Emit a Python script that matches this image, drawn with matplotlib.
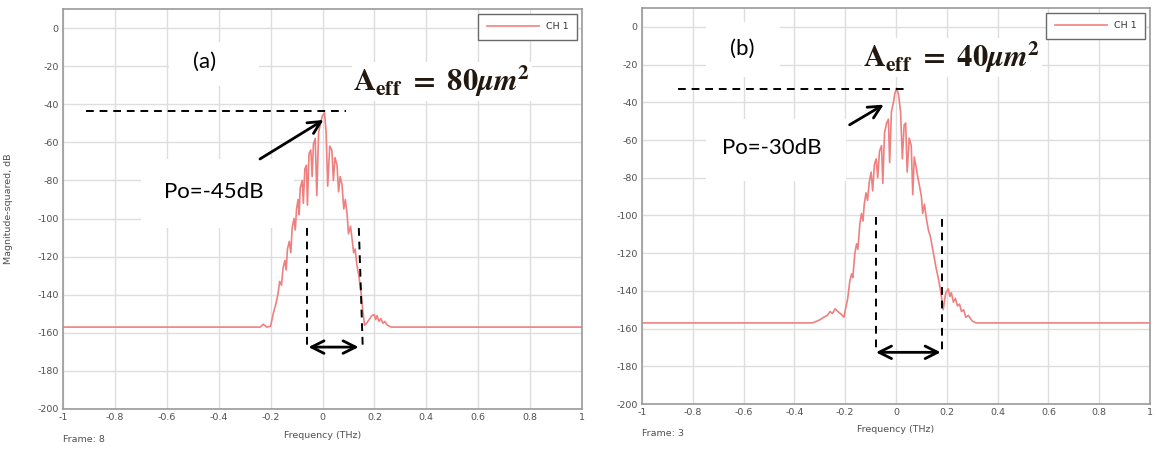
import matplotlib
matplotlib.use("Agg")
import matplotlib.pyplot as plt
from matplotlib.patches import Rectangle

# ---------------- data ----------------
freq_a = [-1.0, -0.24, -0.228, -0.215, -0.2, -0.19, -0.18, -0.172, -0.165, -0.158,
          -0.152, -0.145, -0.14, -0.135, -0.128, -0.122, -0.117, -0.11, -0.105, -0.1,
          -0.094, -0.09, -0.086, -0.078, -0.074, -0.068, -0.062, -0.058, -0.052, -0.045,
          -0.04, -0.035, -0.028, -0.022, -0.015, -0.008, 0.0, 0.008, 0.014, 0.02,
          0.028, 0.036, 0.042, 0.048, 0.056, 0.062, 0.068, 0.075, 0.082, 0.088,
          0.095, 0.1, 0.108, 0.115, 0.12, 0.126, 0.132, 0.14, 0.148, 0.155,
          0.162, 0.17, 0.18, 0.19, 0.2, 0.205, 0.21, 0.218, 0.225, 0.233,
          0.24, 0.25, 0.265, 1.0]
mag_a = [-157, -157, -155.5, -157, -156.5, -150, -145, -140, -133, -135,
         -126, -122, -127, -116, -112, -118, -105, -100, -106, -95,
         -90, -98, -84, -80, -92, -74, -72, -93, -66, -64,
         -78, -61, -58, -88, -55, -50, -46, -44.5, -55, -83,
         -62, -64, -80, -68, -72, -86, -78, -82, -95, -90,
         -98, -108, -104, -112, -118, -116, -124, -130, -138, -148,
         -156, -155, -153, -151, -150.5, -153, -151, -154, -152.5, -155,
         -154, -156, -157, -157]

freq_b = [-1.0, -0.33, -0.31, -0.295, -0.285, -0.27, -0.26, -0.25, -0.24, -0.228,
          -0.215, -0.205, -0.198, -0.19, -0.182, -0.175, -0.17, -0.162, -0.155, -0.15,
          -0.142, -0.136, -0.13, -0.125, -0.118, -0.112, -0.105, -0.098, -0.092, -0.085,
          -0.078, -0.072, -0.065, -0.057, -0.052, -0.045, -0.037, -0.03, -0.025, -0.018,
          -0.01, -0.004, 0.003, 0.01, 0.018, 0.025, 0.032, 0.038, 0.044, 0.052,
          0.06, 0.066, 0.072, 0.08, 0.086, 0.092, 0.1, 0.105, 0.112, 0.12,
          0.128, 0.135, 0.142, 0.15, 0.158, 0.166, 0.173, 0.18, 0.186, 0.19,
          0.196, 0.206, 0.212, 0.218, 0.226, 0.234, 0.242, 0.25, 0.258, 0.266,
          0.275, 0.285, 0.3, 0.315, 1.0]
mag_b = [-157, -157, -156, -155, -154, -153, -151, -152, -149.5, -151,
         -152.5, -154, -149, -144, -135, -131, -133, -120, -115, -118,
         -104, -99, -103, -94, -88, -92, -82, -77, -87, -73,
         -70, -80, -66, -63, -83, -56, -51, -49, -72, -45,
         -40, -35, -32.5, -36, -45, -70, -52, -51, -77, -59,
         -63, -89, -69, -75, -80, -84, -90, -99, -94, -102,
         -108, -111, -116, -122, -128, -133, -138, -144, -150, -146,
         -141, -139, -143, -141, -146, -144, -148, -147, -151, -150,
         -154, -153, -156, -157, -157]

x_ticks = [-1, -0.8, -0.6, -0.4, -0.2, 0, 0.2, 0.4, 0.6, 0.8, 1]
x_ticklabels = ["-1", "-0.8", "-0.6", "-0.4", "-0.2", "0", "0.2", "0.4", "0.6", "0.8", "1"]
y_ticks = [0, -20, -40, -60, -80, -100, -120, -140, -160, -180, -200]
y_ticklabels = [str(v) for v in y_ticks]

series_label = "CH 1"
panel_labels = ["(a)", "(b)"]
power_labels = ["Po=-45dB", "Po=-30dB"]
aeff_labels = [r"$\mathbf{A}_{\mathbf{eff}}\mathbf{\ =\ 80}\mathbfit{\mu m}^{\mathbf{2}}$",
               r"$\mathbf{A}_{\mathbf{eff}}\mathbf{\ =\ 40}\mathbfit{\mu m}^{\mathbf{2}}$"]
frame_labels = ["Frame: 8", "Frame: 3"]

# ---------------- style ----------------
plt.rcParams["mathtext.fontset"] = "stix"
LINE_C = "#ef8080"
TICK_C = "#505050"
GRID_C = "#dedede"
SPINE_C = "#9a9a9a"
ANN_FONT = ["Lato", "DejaVu Sans"]

fig = plt.figure(figsize=(11.56, 4.5), dpi=100)
ax_a = fig.add_axes([63 / 1156, 1 - 409 / 450, 519 / 1156, 400 / 450])
ax_b = fig.add_axes([642 / 1156, 1 - 404 / 450, 508 / 1156, 396 / 450])


def style_axes(ax, frame_text):
    ax.set_xlim(-1, 1)
    ax.set_ylim(-200, 10)
    ax.set_xticks(x_ticks)
    ax.set_xticklabels(x_ticklabels)
    ax.set_yticks(y_ticks)
    ax.set_yticklabels(y_ticklabels)
    ax.tick_params(length=0, labelsize=6.8, colors=TICK_C, pad=3)
    ax.set_axisbelow(True)
    ax.grid(True, color=GRID_C, linewidth=1.0)
    for s in ax.spines.values():
        s.set_color(SPINE_C)
        s.set_linewidth(1.2)
    ax.set_xlabel("Frequency (THz)", fontsize=6.8, color=TICK_C, labelpad=6)
    ax.text(0.0, -0.075, frame_text, transform=ax.transAxes, fontsize=6.8,
            color=TICK_C, ha="left", va="center")
    leg = ax.legend(loc="upper right", fontsize=6.8, handlelength=5.5,
                    fancybox=False, framealpha=1, edgecolor="#6a6a6a",
                    borderpad=0.9, borderaxespad=0.5)
    for t in leg.get_texts():
        t.set_color("#333333")
    leg.get_frame().set_linewidth(1.0)


def white_box(ax, x0, x1, y0, y1):
    ax.add_patch(Rectangle((x0, y0), x1 - x0, y1 - y0, facecolor="white",
                           edgecolor="none", zorder=1))


# ---- panel (a) ----
ax_a.plot(freq_a, mag_a, color=LINE_C, linewidth=1.2, label=series_label, zorder=2)
style_axes(ax_a, frame_labels[0])
ax_a.set_ylabel("Magnitude-squared, dB", fontsize=6.8, color=TICK_C)
ax_a.yaxis.set_label_coords(-0.096, 0.5)

white_box(ax_a, -0.59, -0.245, -30.5, -7.5)
ax_a.text(-0.456, -17.5, panel_labels[0], fontsize=16, family=ANN_FONT,
          ha="center", va="center", zorder=5)
white_box(ax_a, -0.70, -0.108, -105, -69)
ax_a.text(-0.42, -86, power_labels[0], fontsize=16, family=ANN_FONT,
          ha="center", va="center", zorder=5)
ax_a.text(0.46, -28, aeff_labels[0], fontsize=22, color="#22180f",
          ha="center", va="center", zorder=5,
          bbox=dict(facecolor="white", edgecolor="none", pad=1))
ax_a.plot([-0.91, 0.09], [-43.7, -43.7], color="black", linestyle=(0, (4, 3)),
          linewidth=1.4, zorder=4)
ax_a.annotate("", xy=(0.013, -47.5), xytext=(-0.25, -69.5),
              arrowprops=dict(arrowstyle="->,head_length=0.9,head_width=0.45",
                              color="black", linewidth=2), zorder=5)
ax_a.plot([-0.058, -0.058], [-105, -167.5], color="black", linestyle=(0, (4, 3)),
          linewidth=1.4, zorder=4)
ax_a.plot([0.14, 0.155], [-105, -167.5], color="black", linestyle=(0, (4, 3)),
          linewidth=1.4, zorder=4)
ax_a.annotate("", xy=(0.15, -167.5), xytext=(-0.065, -167.5),
              arrowprops=dict(arrowstyle="<->,head_length=0.9,head_width=0.45",
                              color="black", linewidth=2), zorder=5)

# ---- panel (b) ----
ax_b.plot(freq_b, mag_b, color=LINE_C, linewidth=1.2, label=series_label, zorder=2)
style_axes(ax_b, frame_labels[1])

white_box(ax_b, -0.75, -0.456, -26.5, 2.5)
ax_b.text(-0.605, -11.5, panel_labels[1], fontsize=16, family=ANN_FONT,
          ha="center", va="center", zorder=5)
white_box(ax_b, -0.75, -0.197, -82, -48.7)
ax_b.text(-0.488, -64.5, power_labels[1], fontsize=16, family=ANN_FONT,
          ha="center", va="center", zorder=5)
ax_b.text(0.22, -16, aeff_labels[1], fontsize=22, color="#22180f",
          ha="center", va="center", zorder=5,
          bbox=dict(facecolor="white", edgecolor="none", pad=1))
ax_b.plot([-0.86, 0.047], [-32.7, -32.7], color="black", linestyle=(0, (4, 3)),
          linewidth=1.4, zorder=4)
ax_b.annotate("", xy=(-0.039, -40.5), xytext=(-0.192, -52.7),
              arrowprops=dict(arrowstyle="->,head_length=0.9,head_width=0.45",
                              color="black", linewidth=2), zorder=5)
ax_b.plot([-0.077, -0.077], [-101, -172.6], color="black", linestyle=(0, (4, 3)),
          linewidth=1.4, zorder=4)
ax_b.plot([0.181, 0.181], [-102, -172.6], color="black", linestyle=(0, (4, 3)),
          linewidth=1.4, zorder=4)
ax_b.annotate("", xy=(0.187, -172.6), xytext=(-0.09, -172.6),
              arrowprops=dict(arrowstyle="<->,head_length=0.9,head_width=0.45",
                              color="black", linewidth=2), zorder=5)

fig.savefig("out.png", dpi=100)
